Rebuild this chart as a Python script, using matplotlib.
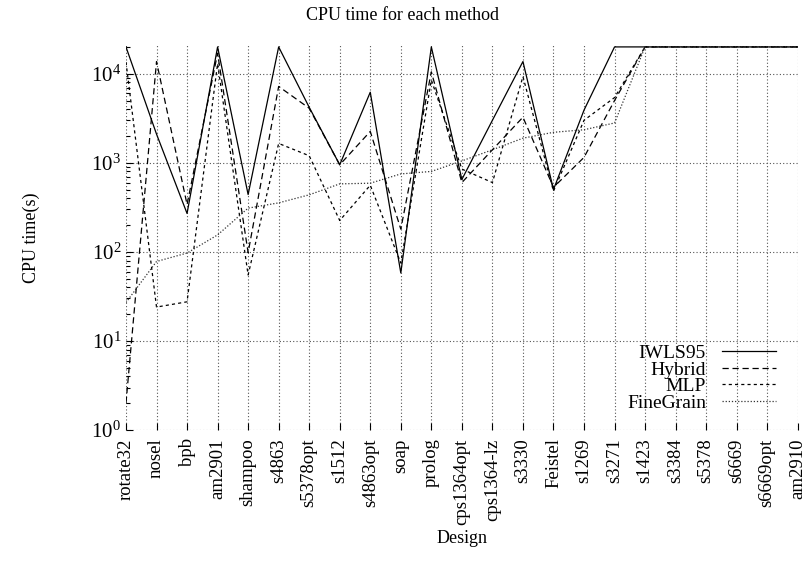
import numpy as np
import matplotlib.pyplot as plt

plt.rcParams['font.family'] = ['Liberation Serif', 'DejaVu Serif']
plt.rcParams['mathtext.fontset'] = 'stix'

# Designs (x axis)
designs = ['rotate32', 'nosel', 'bpb', 'am2901', 'shampoo', 's4863', 's5378opt',
           's1512', 's4863opt', 'soap', 'prolog', 'cps1364opt', 'cps1364-lz',
           's3330', 'Feistel', 's1269', 's3271', 's1423', 's3384', 's5378',
           's6669', 's6669opt', 'am2910']

# CPU time (s)
iwls95 = [20000, 2100, 270, 20000, 440, 20000, 4200, 950, 6200, 58, 20000, 650,
          3000, 13700, 500, 3900, 20000, 20000, 20000, 20000, 20000, 20000, 20000]
hybrid = [2, 13700, 340, 17000, 98, 7200, 4100, 950, 2250, 180, 10500, 600,
          1400, 3250, 530, 1150, 5000, 20000, 20000, 20000, 20000, 20000, 20000]
mlp = [13500, 24, 27.5, 13000, 55, 1650, 1200, 225, 560, 75, 8500, 850,
       600, 9300, 480, 3000, 5400, 20000, 20000, 20000, 20000, 20000, 20000]
finegrain = [27, 78, 97, 155, 310, 355, 437, 580, 590, 750, 800, 1050,
             1400, 1890, 2200, 2350, 2800, 20000, 20000, 20000, 20000, 20000, 20000]

x = np.arange(len(designs))

fig = plt.figure(figsize=(8.05, 5.70), dpi=100)
ax = fig.add_axes([0.1565, 0.2456, 0.8345, 0.6754])

ax.plot(x, iwls95, color='black', lw=0.9, ls='-', label='IWLS95')
ax.plot(x, hybrid, color='black', lw=0.9, ls=(0, (5, 3)), label='Hybrid')
ax.plot(x, mlp, color='black', lw=0.9, ls=(0, (2.5, 2.5)), label='MLP')
ax.plot(x, finegrain, color='#333333', lw=0.9, ls=(0, (1, 1.5)), label='FineGrain')

ax.set_yscale('log')
ax.set_ylim(1, 21000)
ax.set_xlim(0, len(designs) - 1)
ax.set_xticks(x)
ax.set_xticklabels(designs, rotation=90, fontsize=13.5)
ax.tick_params(axis='y', labelsize=15)
ax.tick_params(direction='in', which='major', length=5, width=0.8)
ax.tick_params(direction='in', which='minor', length=3, width=0.8)
ax.tick_params(axis='x', pad=6)

for s in ax.spines.values():
    s.set_visible(False)
ax.grid(True, which='major', color='#555555', ls=(0, (1, 2)), lw=0.8)
ax.set_axisbelow(True)

fig.text(0.5, 1 - 15 / 570, 'CPU time for each method', fontsize=13,
         ha='center', va='center')
ax.set_xlabel('Design', fontsize=13)
ax.xaxis.set_label_coords(0.5, -(530 - 430) / 385)
ax.set_ylabel('CPU time(s)', fontsize=13)
ax.yaxis.set_label_coords(-(126 - 40) / 672, 0.5)

ax.legend(loc='lower right', bbox_to_anchor=(0.985, 0.017), frameon=False,
          markerfirst=False, fontsize=14, handlelength=2.8, labelspacing=-0.05,
          borderaxespad=0.2)

fig.savefig('out.png', dpi=100)
